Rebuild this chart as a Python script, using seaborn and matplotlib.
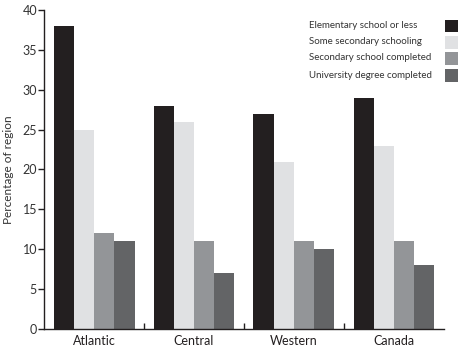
import matplotlib
matplotlib.use('Agg')
import matplotlib.pyplot as plt
import pandas as pd
import seaborn as sns
from matplotlib.patches import Rectangle

regions = ['Atlantic', 'Central', 'Western', 'Canada']
levels = ['Elementary school or less', 'Some secondary schooling',
          'Secondary school completed', 'University degree completed']
elementary = [38, 28, 27, 29]
some_secondary = [25, 26, 21, 23]
secondary = [12, 11, 11, 11]
university = [11, 7, 10, 8]
colors = ['#231f20', '#e0e1e3', '#939598', '#636466']

df = pd.DataFrame({
    'region': regions * 4,
    'level': [l for l in levels for _ in regions],
    'value': elementary + some_secondary + secondary + university,
})

sns.set_style('white')
plt.rcParams['font.family'] = ['Lato', 'DejaVu Sans']
text_color = '#333333'

W, H = 472, 357
fig = plt.figure(figsize=(W / 100, H / 100), dpi=100)
ax = fig.add_axes([44 / W, 1 - 329 / H, 400 / W, 319 / H])

sns.barplot(data=df, x='region', y='value', hue='level', order=regions,
            hue_order=levels, palette=colors, width=0.81, saturation=1,
            linewidth=0, legend=False, ax=ax)

ax.set_xlim(-0.5, 3.5)
ax.set_ylim(0, 40)
ax.set_yticks(range(0, 41, 5))
ax.set_xlabel('')
ax.set_ylabel('Percentage of region', fontsize=8.5, color=text_color, labelpad=6)

for s in ['top', 'right']:
    ax.spines[s].set_visible(False)
for s in ['left', 'bottom']:
    ax.spines[s].set_color('#231f20')
    ax.spines[s].set_linewidth(1)

ax.tick_params(axis='y', direction='out', length=4, width=1, color='#231f20',
               labelsize=9, labelcolor=text_color, pad=1, left=True)
ax.tick_params(axis='x', which='major', length=0, labelsize=9,
               labelcolor='#231f20', pad=4)
ax.set_xticks([0.5, 1.5, 2.5], minor=True)
ax.tick_params(axis='x', which='minor', direction='in', length=4, width=1,
               color='#231f20', bottom=True)

# legend: text on the left (left-aligned), swatches on the right
row_y = [25.5, 42, 58, 75]
for lab, c, y in zip(levels, colors, row_y):
    fig.text(309 / W, 1 - y / H, lab, fontsize=7.0, color=text_color,
             ha='left', va='center')
    fig.add_artist(Rectangle((445 / W, 1 - (y + 6.5) / H), 12.5 / W, 12.5 / H,
                             facecolor=c, edgecolor='none',
                             transform=fig.transFigure))

fig.savefig('out.png', dpi=100)
